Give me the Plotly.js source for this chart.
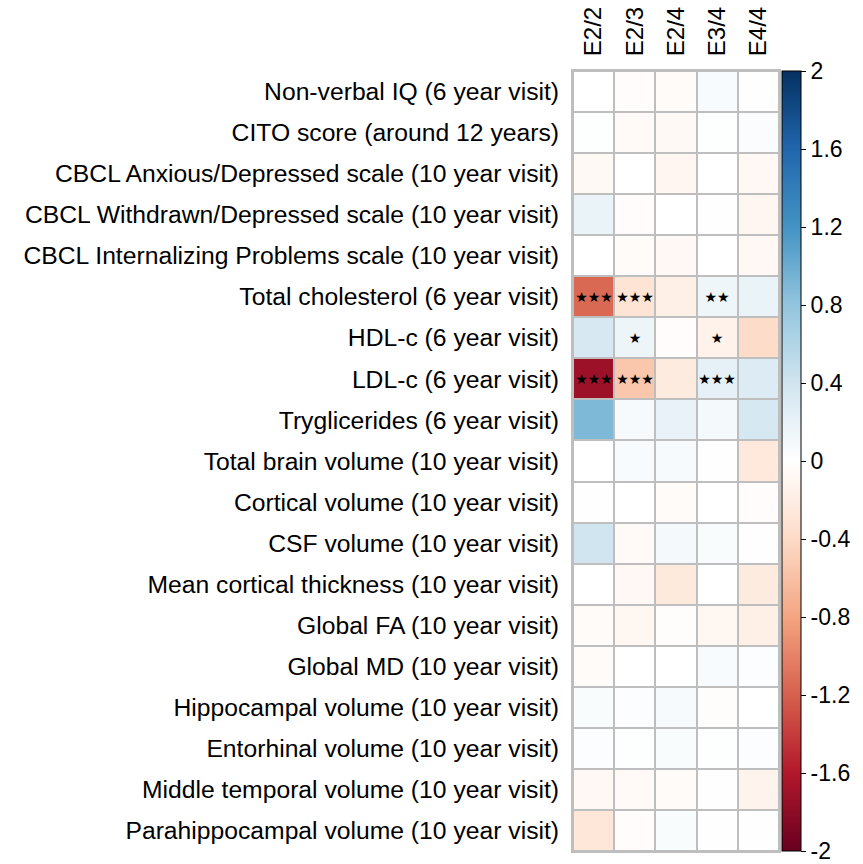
<!DOCTYPE html>
<html>
<head>
<meta charset="utf-8">
<script src="https://cdn.plot.ly/plotly-3.0.1.min.js"></script>
<style>html,body{margin:0;padding:0;background:#fff;}#chart{width:863px;height:864px;}</style>
</head>
<body>
<div id="chart"></div>
<script>
const genotypes = ["E2/2", "E2/3", "E2/4", "E3/4", "E4/4"];
const outcomes = [
  "Non-verbal IQ (6 year visit)",
  "CITO score (around 12 years)",
  "CBCL Anxious/Depressed scale (10 year visit)",
  "CBCL Withdrawn/Depressed scale (10 year visit)",
  "CBCL Internalizing Problems scale (10 year visit)",
  "Total cholesterol (6 year visit)",
  "HDL-c (6 year visit)",
  "LDL-c (6 year visit)",
  "Tryglicerides (6 year visit)",
  "Total brain volume (10 year visit)",
  "Cortical volume (10 year visit)",
  "CSF volume (10 year visit)",
  "Mean cortical thickness (10 year visit)",
  "Global FA (10 year visit)",
  "Global MD (10 year visit)",
  "Hippocampal volume (10 year visit)",
  "Entorhinal volume (10 year visit)",
  "Middle temporal volume (10 year visit)",
  "Parahippocampal volume (10 year visit)"
];
const effects = [
  [ 0.00, -0.03, -0.05,  0.06,  0.01],
  [ 0.02, -0.06, -0.07,  0.02,  0.04],
  [-0.07,  0.00, -0.10,  0.00, -0.08],
  [ 0.18, -0.03,  0.00,  0.01, -0.10],
  [ 0.00, -0.05, -0.08,  0.00, -0.08],
  [-1.15, -0.30, -0.17,  0.14,  0.18],
  [ 0.35,  0.16, -0.03, -0.15, -0.38],
  [-1.72, -0.55, -0.22,  0.22,  0.30],
  [ 0.90,  0.08,  0.20,  0.10,  0.36],
  [ 0.00,  0.06,  0.07,  0.01, -0.25],
  [-0.01,  0.00, -0.04,  0.00, -0.03],
  [ 0.40, -0.06,  0.10,  0.05, -0.01],
  [ 0.00, -0.08, -0.24,  0.00, -0.22],
  [-0.05, -0.09, -0.02, -0.09, -0.17],
  [-0.05,  0.00,  0.00,  0.06,  0.03],
  [ 0.05,  0.03,  0.07, -0.02,  0.00],
  [ 0.03,  0.02,  0.05,  0.02,  0.03],
  [-0.08, -0.06, -0.05, -0.01, -0.13],
  [-0.27, -0.03,  0.05, -0.01,  0.01]
];
const significance = [
  ["", "", "", "", ""],
  ["", "", "", "", ""],
  ["", "", "", "", ""],
  ["", "", "", "", ""],
  ["", "", "", "", ""],
  ["★★★", "★★★", "", "★★", ""],
  ["", "★", "", "★", ""],
  ["★★★", "★★★", "", "★★★", ""],
  ["", "", "", "", ""],
  ["", "", "", "", ""],
  ["", "", "", "", ""],
  ["", "", "", "", ""],
  ["", "", "", "", ""],
  ["", "", "", "", ""],
  ["", "", "", "", ""],
  ["", "", "", "", ""],
  ["", "", "", "", ""],
  ["", "", "", "", ""],
  ["", "", "", "", ""]
];
const cbTickVals = [-2, -1.6, -1.2, -0.8, -0.4, 0, 0.4, 0.8, 1.2, 1.6, 2];
const cbTickText = ["-2", "-1.6", "-1.2", "-0.8", "-0.4", "0", "0.4", "0.8", "1.2", "1.6", "2"];

const rdbu = ["#67001F", "#B2182B", "#D6604D", "#F4A582", "#FDDBC7", "#FFFFFF",
              "#D1E5F0", "#92C5DE", "#4393C3", "#2166AC", "#053061"];
const colorscale = rdbu.map((c, i) => [i / (rdbu.length - 1), c]);

const font = "Liberation Sans, Arial, sans-serif";

const trace = {
  type: "heatmap",
  x: genotypes,
  y: outcomes,
  z: effects,
  text: significance,
  texttemplate: "%{text}",
  textfont: {family: "DejaVu Sans", size: 14, color: "#000"},
  zmin: -2, zmax: 2,
  colorscale: colorscale,
  xgap: 2, ygap: 2,
  hoverinfo: "x+y+z",
  colorbar: {
    x: 1.0146, xanchor: "left", xpad: 0,
    y: 0.5, yanchor: "middle", ypad: 0,
    len: 780, lenmode: "pixels",
    thickness: 19, thicknessmode: "pixels",
    outlinewidth: 1, outlinecolor: "#000",
    tickmode: "array", tickvals: cbTickVals, ticktext: cbTickText,
    ticks: "outside", ticklen: 5, tickcolor: "#000", tickwidth: 1,
    ticklabeloverflow: "allow",
    tickfont: {family: font, size: 23, color: "#000"}
  }
};

const layout = {
  width: 863, height: 864,
  margin: {l: 573, r: 84, t: 71, b: 13, pad: 0},
  paper_bgcolor: "#fff",
  plot_bgcolor: "#BEBEBE",
  font: {family: font, color: "#000"},
  xaxis: {
    side: "top", tickangle: -90, type: "category",
    tickfont: {family: font, size: 24, color: "#000"},
    ticks: "", ticklabelstandoff: 8,
    showgrid: false, zeroline: false,
    showline: true, mirror: true, linecolor: "#BEBEBE", linewidth: 2
  },
  yaxis: {
    autorange: "reversed", type: "category",
    tickfont: {family: font, size: 24.7, color: "#000"},
    ticks: "", ticklabelstandoff: 7,
    showgrid: false, zeroline: false,
    showline: true, mirror: true, linecolor: "#BEBEBE", linewidth: 2
  }
};

Plotly.newPlot("chart", [trace], layout, {displayModeBar: false, staticPlot: true});
</script>
</body>
</html>
